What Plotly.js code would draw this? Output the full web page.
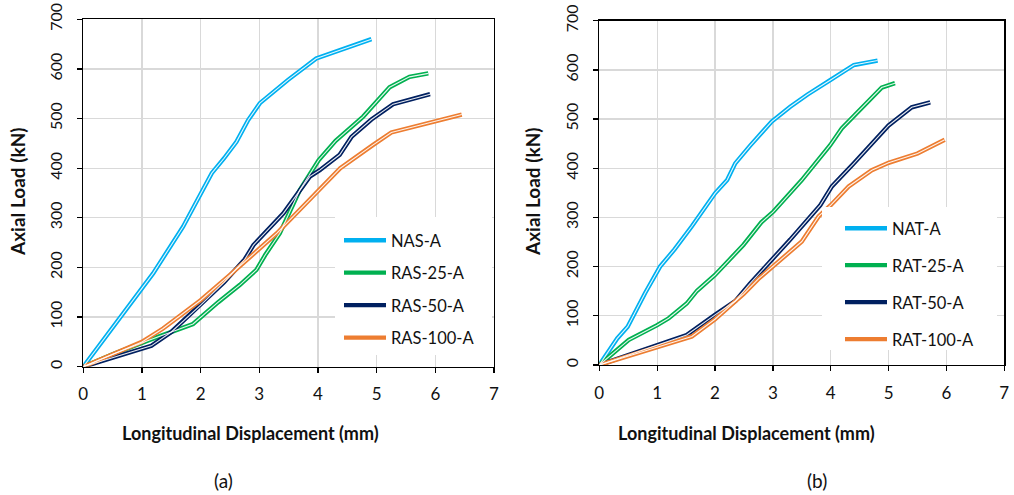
<!DOCTYPE html>
<html><head><meta charset="utf-8">
<script src="https://cdn.plot.ly/plotly-3.0.1.min.js"></script>
<style>html,body{margin:0;padding:0;background:#fff}#chart{width:1014px;height:495px}</style>
</head><body><div id="chart"></div>
<script>
// ---- Data: panel (a) ----
var nasX = [0, 1.19, 1.70, 1.99, 2.19, 2.40, 2.61, 2.81, 3.01, 3.49, 3.97, 4.91];
var nasY = [0, 188, 282, 346, 390, 420, 453, 497, 531, 578, 621, 660];
var ras25X = [0, 0.5, 1.13, 1.5, 1.87, 2.3, 2.67, 2.95, 3.1, 3.35, 3.69, 4.01, 4.3, 4.77, 5.22, 5.56, 5.88];
var ras25Y = [0, 25, 54, 70, 86, 130, 165, 195, 225, 269, 356, 416, 455, 504, 563, 584, 591];
var ras50X = [0, 0.5, 1.16, 1.5, 2.0, 2.4, 2.75, 2.9, 3.41, 3.86, 4.03, 4.37, 4.57, 4.91, 5.28, 5.91];
var ras50Y = [0, 18, 42, 70, 124, 170, 216, 245, 309, 383, 396, 427, 463, 498, 529, 549];
var ras100X = [0, 0.5, 1.0, 1.36, 2.0, 2.5, 3.0, 3.3, 4.0, 4.38, 4.94, 5.25, 6.45];
var ras100Y = [0, 25, 50, 77, 134, 185, 238, 269, 354, 400, 447, 472, 508];
var namesA = ["NAS-A", "RAS-25-A", "RAS-50-A", "RAS-100-A"];

// ---- Data: panel (b) ----
var natX = [0, 0.31, 0.49, 0.79, 1.05, 1.3, 1.6, 2.0, 2.21, 2.35, 2.6, 2.98, 3.3, 3.6, 3.99, 4.4, 4.81];
var natY = [0, 54, 78, 146, 200, 235, 282, 349, 376, 410, 445, 495, 525, 550, 579, 610, 619];
var rat25X = [0, 0.51, 1.0, 1.2, 1.51, 1.69, 2.0, 2.21, 2.49, 2.8, 3.01, 3.5, 3.99, 4.19, 4.88, 5.11];
var rat25Y = [0, 51, 81, 95, 125, 151, 183, 210, 244, 290, 312, 376, 447, 481, 564, 573];
var rat50X = [0, 1.51, 2.0, 2.35, 2.6, 3.01, 3.3, 3.82, 4.02, 4.4, 4.81, 5.0, 5.4, 5.72];
var rat50Y = [0, 61, 102, 130, 165, 217, 255, 325, 363, 410, 464, 487, 524, 534];
var rat100X = [0, 1.6, 2.0, 2.5, 2.75, 3.0, 3.5, 3.79, 4.0, 4.31, 4.71, 5.0, 5.5, 5.97];
var rat100Y = [0, 58, 93, 145, 175, 200, 251, 302, 325, 363, 396, 411, 430, 458];
var namesB = ["NAT-A", "RAT-25-A", "RAT-50-A", "RAT-100-A"];

var xTicks = [0, 1, 2, 3, 4, 5, 6, 7];
var yTicks = [0, 100, 200, 300, 400, 500, 600, 700];
var xTitle = "Longitudinal Displacement (mm)";
var yTitle = "Axial Load (kN)";
var panelLabels = ["(a)", "(b)"];

var colors = ["#00B0F0", "#00B050", "#002060", "#ED7D31"];
var FONT = "Lato, 'Open Sans', sans-serif";

var seriesA = [[nasX, nasY], [ras25X, ras25Y], [ras50X, ras50Y], [ras100X, ras100Y]];
var seriesB = [[natX, natY], [rat25X, rat25Y], [rat50X, rat50Y], [rat100X, rat100Y]];

var traces = [];
function addPanel(series, names, xa, ya, lg) {
  series.forEach(function (s, i) {
    traces.push({x: s[0], y: s[1], name: names[i], type: "scatter", mode: "lines",
      xaxis: xa, yaxis: ya, legend: lg, legendgroup: lg + i,
      line: {color: colors[i], width: 4.4}});
  });
  series.forEach(function (s, i) {
    traces.push({x: s[0], y: s[1], type: "scatter", mode: "lines", hoverinfo: "skip",
      xaxis: xa, yaxis: ya, showlegend: false,
      line: {color: "rgba(255,255,255,0.9)", width: 1.1}});
  });
}
addPanel(seriesA, namesA, "x", "y", "legend");
addPanel(seriesB, namesB, "x2", "y2", "legend2");

function xaxis(domain, anchor) {
  return {domain: domain, anchor: anchor, range: [0, 7], tickvals: xTicks, ticktext: xTicks.map(String),
    showgrid: true, gridcolor: "#d9d9d9", gridwidth: 1.3, zeroline: false,
    showline: true, linecolor: "#000", linewidth: 1.3, mirror: true,
    ticks: "outside", ticklen: 5, tickcolor: "#000", tickwidth: 1.3, ticklabelstandoff: 7,
    tickfont: {family: FONT, size: 17, color: "#111"}, fixedrange: true};
}
function yaxis(domain, anchor) {
  return {domain: domain, anchor: anchor, range: [0, 700], tickvals: yTicks, ticktext: yTicks.map(String),
    showgrid: true, gridcolor: "#d9d9d9", gridwidth: 1.3, zeroline: false,
    showline: true, linecolor: "#000", linewidth: 1.3, mirror: true,
    ticks: "outside", ticklen: 5, tickcolor: "#000", tickwidth: 1.3, tickangle: -90, ticklabelstandoff: 9,
    tickfont: {family: FONT, size: 16, color: "#111"}, fixedrange: true};
}

var W = 1014, H = 495;
function px(x) { return x / W; }
function py(y) { return (H - y) / H; }

function note(text, x, y, size, angle) {
  return {text: text, xref: "paper", yref: "paper", x: px(x), y: py(y), xanchor: "center", yanchor: "middle",
    showarrow: false, textangle: angle || 0, font: {family: FONT, size: size, color: "#111"}};
}

var legendFont = {family: FONT, size: 16.5, color: "#111"};
var layout = {
  width: W, height: H, margin: {l: 0, r: 0, t: 0, b: 0},
  paper_bgcolor: "#fff", plot_bgcolor: "#fff", showlegend: true,
  font: {family: FONT},
  xaxis: xaxis([px(83.3), px(494)], "y"),
  yaxis: yaxis([py(366.7), py(19.3)], "x"),
  xaxis2: xaxis([px(599.3), px(1004.3)], "y2"),
  yaxis2: yaxis([py(365), py(20.7)], "x2"),
  legend: {x: px(339), y: py(223), xanchor: "left", yanchor: "top", bgcolor: "rgba(0,0,0,0)",
    font: legendFont, traceorder: "grouped", tracegroupgap: 8, itemwidth: 42},
  legend2: {x: px(840), y: py(211), xanchor: "left", yanchor: "top", bgcolor: "rgba(0,0,0,0)",
    font: legendFont, traceorder: "grouped", tracegroupgap: 12.5, itemwidth: 42},
  shapes: [
    {type: "rect", xref: "paper", yref: "paper", x0: px(335), x1: px(492), y0: py(355), y1: py(217),
      fillcolor: "#fff", line: {width: 0}, layer: "above"},
    {type: "rect", xref: "paper", yref: "paper", x0: px(822), x1: px(997), y0: py(350), y1: py(207),
      fillcolor: "#fff", line: {width: 0}, layer: "above"}
  ],
  annotations: [
    note("<b>" + xTitle + "</b>", 250, 433, 18),
    note("<b>" + xTitle + "</b>", 746, 433, 18),
    note("<b>" + yTitle + "</b>", 17, 192, 19, -90),
    note("<b>" + yTitle + "</b>", 532, 192, 19, -90),
    note(panelLabels[0], 223, 480, 19),
    note(panelLabels[1], 817, 480, 19)
  ]
};
Plotly.newPlot("chart", traces, layout, {displayModeBar: false, staticPlot: true});
</script></body></html>
